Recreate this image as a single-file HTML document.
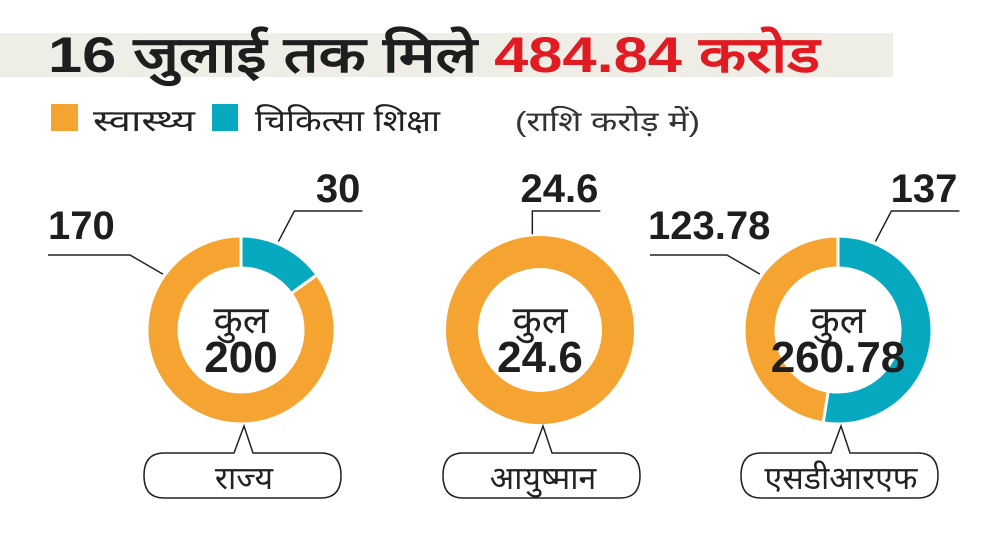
<!DOCTYPE html>
<html><head><meta charset="utf-8">
<style>
html,body{margin:0;padding:0;background:#fff;}
svg{display:block;}
text{font-family:"Liberation Sans","Noto Sans CJK SC",sans-serif;}
</style></head>
<body>
<svg id="chart" width="981" height="547" viewBox="0 0 981 547" xmlns="http://www.w3.org/2000/svg">
  <rect x="0" y="33" width="893" height="44" fill="#efeee6"/>
  <text x="48" y="72" font-size="50" font-weight="bold" fill="#1e1e1e" textLength="772" lengthAdjust="spacingAndGlyphs"><tspan>16 जुलाई तक मिले </tspan><tspan fill="#e21b23">484.84 करोड</tspan></text>
  <g>
    <rect x="51" y="104" width="27" height="27" fill="#f6a431"/>
    <text x="93" y="131" font-size="30" fill="#222" textLength="102" lengthAdjust="spacingAndGlyphs">स्वास्थ्य</text>
    <rect x="212" y="104" width="26" height="27" fill="#07a9c1"/>
    <text x="255" y="131" font-size="30" fill="#222" textLength="185" lengthAdjust="spacingAndGlyphs">चिकित्सा शिक्षा</text>
    <text x="515" y="131" font-size="28" fill="#333" textLength="185" lengthAdjust="spacingAndGlyphs">(राशि करोड़ में)</text>
  </g>
  <g id="donuts"></g>
</svg>
<script>
const categories = ["राज्य", "आयुष्मान", "एसडीआरएफ"];
const healthValues = [170, 24.6, 123.78];
const eduValues = [30, 0, 137];
const totalLabels = ["200", "24.6", "260.78"];
const healthLabels = ["170", "", "123.78"];
const eduLabels = ["30", "24.6", "137"];

const NS = "http://www.w3.org/2000/svg";
const g = document.getElementById("donuts");
const centers = [241, 540, 838], cy = 330, R = 94, r = 62;
const colors = {health:"#f6a431", edu:"#07a9c1"};
function mk(tag, attrs, parent){const e=document.createElementNS(NS,tag);for(const k in attrs)e.setAttribute(k,attrs[k]);(parent||g).appendChild(e);return e;}
function pt(cx,rad,a){return [cx+rad*Math.sin(a), cy-rad*Math.cos(a)];}
function arcPath(cx,a0,a1){
  if(a1-a0>=2*Math.PI-1e-6){
    return `M${cx} ${cy-R}A${R} ${R} 0 1 1 ${cx} ${cy+R}A${R} ${R} 0 1 1 ${cx} ${cy-R}Z M${cx} ${cy-r}A${r} ${r} 0 1 0 ${cx} ${cy+r}A${r} ${r} 0 1 0 ${cx} ${cy-r}Z`;
  }
  const large=(a1-a0)>Math.PI?1:0;
  const [x0,y0]=pt(cx,R,a0),[x1,y1]=pt(cx,R,a1),[x2,y2]=pt(cx,r,a1),[x3,y3]=pt(cx,r,a0);
  return `M${x0} ${y0}A${R} ${R} 0 ${large} 1 ${x1} ${y1}L${x2} ${y2}A${r} ${r} 0 ${large} 0 ${x3} ${y3}Z`;
}
categories.forEach((cat,i)=>{
  const cx=centers[i];
  const total=healthValues[i]+eduValues[i];
  const eduA=2*Math.PI*eduValues[i]/total;
  const grp=mk("g",{});
  
  
  if(eduValues[i]>0){
    const p=mk("path",{d:arcPath(cx,0,eduA),fill:colors.edu,stroke:"#fff","stroke-width":3},grp);
    
    
  }
  const p2=mk("path",{d:arcPath(cx,eduA,2*Math.PI),fill:colors.health,stroke:"#fff","stroke-width":eduValues[i]>0?3:0},grp);
  
  
  const t1=mk("text",{x:cx,y:333,"text-anchor":"middle","font-size":38,fill:"#222"},grp);
  t1.textContent="कुल";
  
  
  const t2=mk("text",{x:cx,y:372,"text-anchor":"middle","font-size":44,"font-weight":"bold",fill:"#1e1e1e"},grp);
  t2.textContent=totalLabels[i];
  
  
  const am=eduValues[i]>0?eduA/2:0;
  const [ex,ey]=pt(cx,R+2,eduValues[i]>0?Math.min(am,0.4):-0.08);
  const lx=eduValues[i]>0?ex+16:ex, ly=211;
  const l1=mk("polyline",{points:`${ex},${ey} ${lx},${ly} ${lx+68},${ly}`,fill:"none",stroke:"#222","stroke-width":1.5},grp);
  
  
  const tl=mk("text",{x:lx+66,y:202,"text-anchor":"end","font-size":40,"font-weight":"bold",fill:"#1e1e1e"},grp);
  tl.textContent=eduLabels[i];
  
  
  if(healthLabels[i]){
    const [hx,hy]=pt(cx,R+2,-0.95);
    const l2=mk("polyline",{points:`${hx},${hy} ${hx-33},255 ${i==0?48:650},255`,fill:"none",stroke:"#222","stroke-width":1.5},grp);
    
    
    const th=mk("text",{x:i==0?48:648,y:239,"font-size":40,"font-weight":"bold",fill:"#1e1e1e"},grp);
    th.textContent=healthLabels[i];
    
    
  }
  const bx=cx-97,bw=197,by=453,bh=45,tipX=cx+3;
  const d=`M${bx+20} ${by}H${tipX-10}L${tipX} ${cy+R+2}L${tipX+9} ${by}H${bx+bw-20}Q${bx+bw} ${by} ${bx+bw} ${by+bh/2}Q${bx+bw} ${by+bh} ${bx+bw-20} ${by+bh}H${bx+20}Q${bx} ${by+bh} ${bx} ${by+bh/2}Q${bx} ${by} ${bx+20} ${by}Z`;
  const b=mk("path",{d:d,fill:"#fff",stroke:"#222","stroke-width":1.5},grp);
  
  
  const ct=mk("text",{x:cx+3,y:489,"text-anchor":"middle","font-size":32,fill:"#222"},grp);
  ct.textContent=cat;
  
  
});
</script>
</body></html>
